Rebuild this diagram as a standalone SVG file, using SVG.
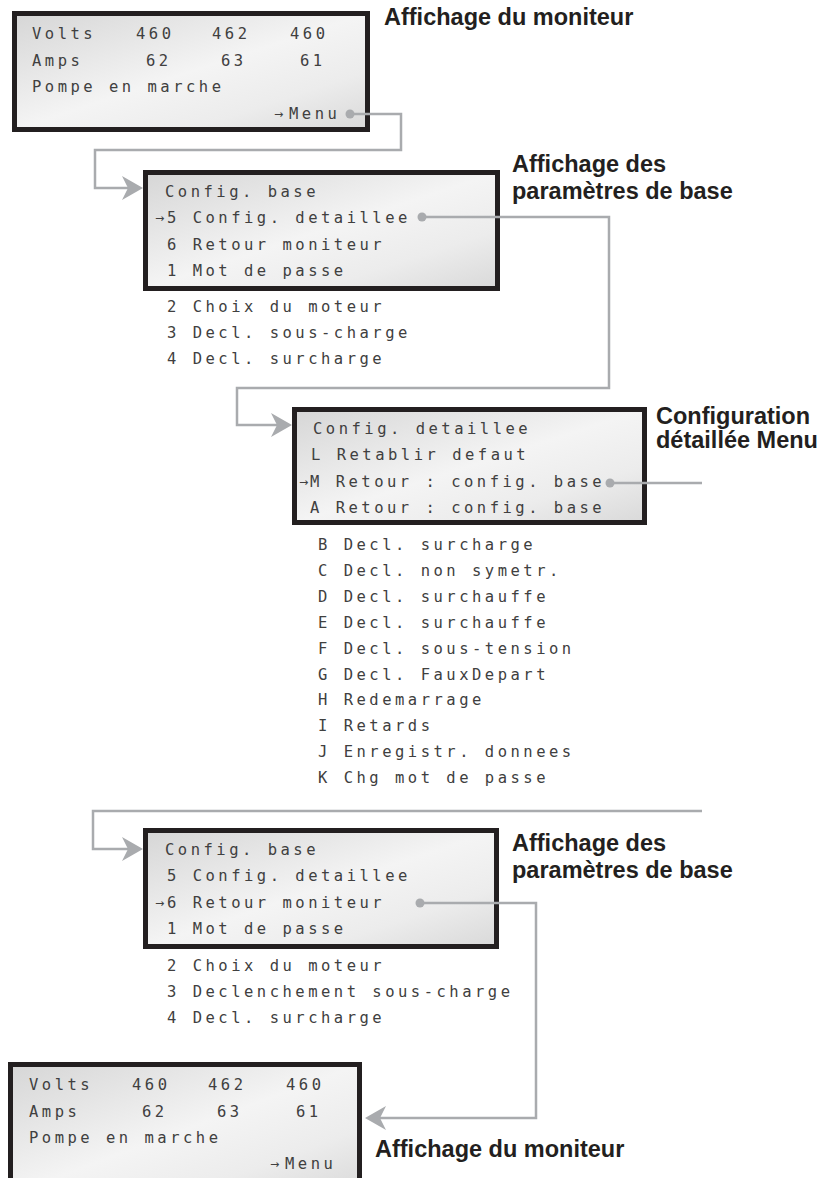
<svg xmlns="http://www.w3.org/2000/svg" width="828" height="1178" viewBox="0 0 828 1178">
<style>
.lcd{font-family:"DejaVu Sans Mono","Liberation Mono",monospace;font-size:15.5px;letter-spacing:3.5px;fill:#404040;white-space:pre}
.arr{font-family:"DejaVu Sans","Liberation Sans",sans-serif;font-size:11px;fill:#404040}
.lbl{font-family:"Liberation Sans",Arial,sans-serif;font-weight:bold;font-size:23.5px;fill:#231f20}
.box{fill:url(#g);stroke:#231f20;stroke-width:5}
.con{fill:none;stroke:#a9abae;stroke-width:2.5}
.dot{fill:#a9abae}
.ah{fill:#a9abae}
</style>
<defs>
<linearGradient id="g" x1="0" y1="0" x2="1" y2="1">
<stop offset="0" stop-color="#d6d6d6"/>
<stop offset="0.5" stop-color="#f4f4f4"/>
<stop offset="0.75" stop-color="#ececec"/>
<stop offset="1" stop-color="#d9d9d9"/>
</linearGradient>
<path id="ahead" d="M0,0 L-21,-12 L-15,0 L-21,12 Z"/>
</defs>
<rect width="828" height="1178" fill="#ffffff"/>

<g id="monitor1">
<rect class="box" x="14.5" y="13.5" width="353" height="116"/>
<text class="lcd" x="32" y="39">Volts</text>
<text class="lcd" x="136" y="39">460</text>
<text class="lcd" x="212" y="39">462</text>
<text class="lcd" x="290" y="39">460</text>
<text class="lcd" x="32" y="66">Amps</text>
<text class="lcd" x="146" y="66">62</text>
<text class="lcd" x="221" y="66">63</text>
<text class="lcd" x="300" y="66">61</text>
<text class="lcd" x="32" y="92">Pompe en marche</text>
<text class="arr" x="274" y="118">→</text>
<text class="lcd" x="289" y="119">Menu</text>
<text class="lbl" x="384" y="25">Affichage du moniteur</text>
</g>

<g id="base1">
<rect class="box" x="145.5" y="172.5" width="352" height="116"/>
<text class="lcd" x="165" y="197">Config. base</text>
<text class="arr" x="155" y="222">→</text>
<text class="lcd" x="167" y="223">5 Config. detaillee</text>
<text class="lcd" x="167" y="250">6 Retour moniteur</text>
<text class="lcd" x="167" y="276">1 Mot de passe</text>
<text class="lcd" x="167" y="312">2 Choix du moteur</text>
<text class="lcd" x="167" y="338">3 Decl. sous-charge</text>
<text class="lcd" x="167" y="364">4 Decl. surcharge</text>
<text class="lbl" x="512" y="172">Affichage des</text>
<text class="lbl" x="512" y="199">paramètres de base</text>
</g>

<g id="detail">
<rect class="box" x="294.5" y="409.5" width="350" height="113"/>
<text class="lcd" x="313" y="434">Config. detaillee</text>
<text class="lcd" x="311" y="460">L Retablir defaut</text>
<text class="arr" x="299" y="486">→</text>
<text class="lcd" x="310" y="487">M Retour : config. base</text>
<text class="lcd" x="310" y="513">A Retour : config. base</text>
<text class="lcd" x="318" y="550">B Decl. surcharge</text>
<text class="lcd" x="318" y="576">C Decl. non symetr.</text>
<text class="lcd" x="318" y="602">D Decl. surchauffe</text>
<text class="lcd" x="318" y="628">E Decl. surchauffe</text>
<text class="lcd" x="318" y="654">F Decl. sous-tension</text>
<text class="lcd" x="318" y="680">G Decl. FauxDepart</text>
<text class="lcd" x="318" y="705">H Redemarrage</text>
<text class="lcd" x="318" y="731">I Retards</text>
<text class="lcd" x="318" y="757">J Enregistr. donnees</text>
<text class="lcd" x="318" y="783">K Chg mot de passe</text>
<text class="lbl" x="656" y="424">Configuration</text>
<text class="lbl" x="656" y="448">détaillée Menu</text>
</g>

<g id="base2">
<rect class="box" x="145.5" y="830.5" width="351" height="116"/>
<text class="lcd" x="165" y="855">Config. base</text>
<text class="lcd" x="167" y="881">5 Config. detaillee</text>
<text class="arr" x="155" y="907">→</text>
<text class="lcd" x="167" y="908">6 Retour moniteur</text>
<text class="lcd" x="167" y="934">1 Mot de passe</text>
<text class="lcd" x="167" y="971">2 Choix du moteur</text>
<text class="lcd" x="167" y="997">3 Declenchement sous-charge</text>
<text class="lcd" x="167" y="1023">4 Decl. surcharge</text>
<text class="lbl" x="512" y="851">Affichage des</text>
<text class="lbl" x="512" y="878">paramètres de base</text>
</g>

<g id="monitor2">
<rect class="box" x="10.5" y="1064.5" width="349" height="130"/>
<text class="lcd" x="29" y="1090">Volts</text>
<text class="lcd" x="132" y="1090">460</text>
<text class="lcd" x="208" y="1090">462</text>
<text class="lcd" x="286" y="1090">460</text>
<text class="lcd" x="29" y="1117">Amps</text>
<text class="lcd" x="142" y="1117">62</text>
<text class="lcd" x="217" y="1117">63</text>
<text class="lcd" x="296" y="1117">61</text>
<text class="lcd" x="29" y="1143">Pompe en marche</text>
<text class="arr" x="270" y="1168">→</text>
<text class="lcd" x="285" y="1169">Menu</text>
<text class="lbl" x="375" y="1157">Affichage du moniteur</text>
</g>

<g id="connectors">
<path class="con" d="M350,114 H401 V150 H95 V188 H130"/>
<use href="#ahead" class="ah" transform="translate(143,188)"/>
<circle class="dot" cx="350" cy="114" r="4.5"/>
<path class="con" d="M422,217 H609 V388 H237 V425 H280"/>
<use href="#ahead" class="ah" transform="translate(292,425)"/>
<circle class="dot" cx="422" cy="217" r="4.5"/>
<path class="con" d="M610,483 H702"/>
<circle class="dot" cx="610" cy="483" r="4.5"/>
<path class="con" d="M702,811 H93 V849 H130"/>
<use href="#ahead" class="ah" transform="translate(143,849)"/>
<path class="con" d="M420,903 H536 V1118 H378"/>
<use href="#ahead" class="ah" transform="translate(365,1118) rotate(180)"/>
<circle class="dot" cx="420" cy="903" r="4.5"/>
</g>
</svg>
